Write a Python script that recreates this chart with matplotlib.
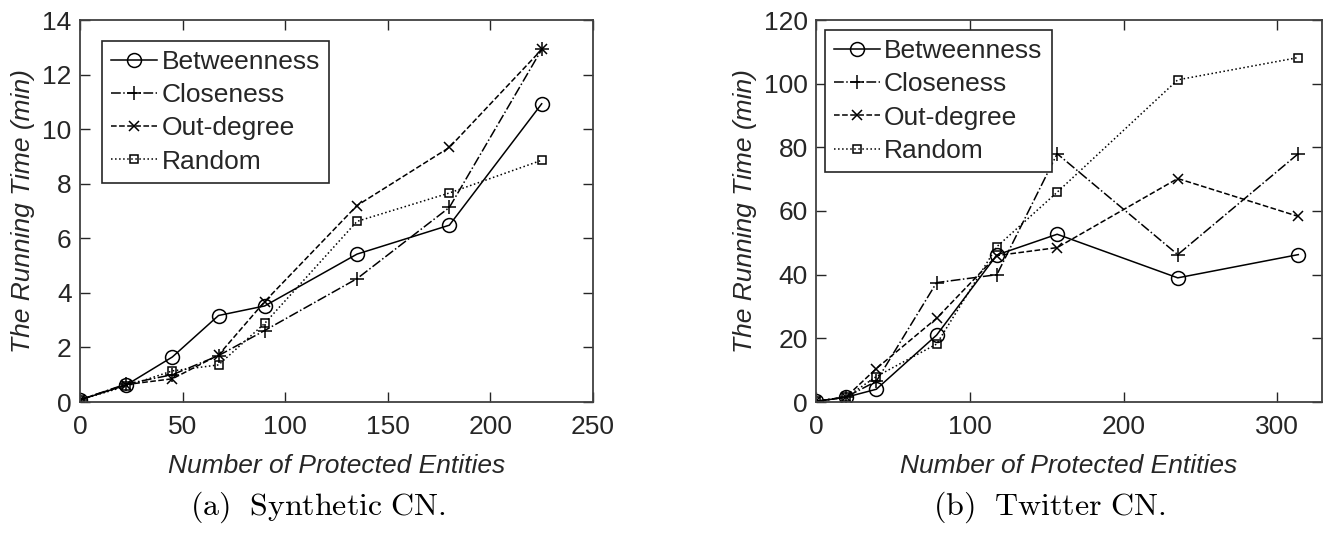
import matplotlib
matplotlib.use("Agg")
import matplotlib.pyplot as plt
from matplotlib.ticker import MultipleLocator

plt.rcParams['font.family'] = ['Liberation Sans', 'DejaVu Sans']
plt.rcParams['mathtext.fontset'] = 'cm'

series_names = ["Betweenness", "Closeness", "Out-degree", "Random"]

# (a) Synthetic CN
x_syn = [0, 22.5, 45, 67.5, 90, 135, 180, 225]
syn_betweenness = [0.08, 0.62, 1.65, 3.17, 3.52, 5.42, 6.48, 10.93]
syn_closeness   = [0.08, 0.66, 1.00, 1.70, 2.62, 4.52, 7.13, 12.92]
syn_outdegree   = [0.08, 0.64, 0.85, 1.72, 3.68, 7.20, 9.33, 12.92]
syn_random      = [0.08, 0.58, 1.14, 1.36, 2.88, 6.62, 7.66, 8.86]

# (b) Twitter CN
x_tw = [0, 19.6, 39.2, 78.4, 117.6, 156.8, 235.2, 313.6]
tw_betweenness = [0.2, 1.5, 4.0, 21.0, 46.2, 52.7, 39.0, 46.3]
tw_closeness   = [0.2, 1.6, 6.5, 37.5, 40.0, 78.0, 46.3, 78.0]
tw_outdegree   = [0.2, 1.6, 10.5, 26.3, 46.0, 48.5, 70.2, 58.3]
tw_random      = [0.2, 1.5, 8.0, 18.2, 48.8, 65.9, 101.2, 108.2]

styles = [dict(ls='-', marker='o', ms=10, mfc='none'),
          dict(ls='-.', marker='+', ms=10),
          dict(ls='--', marker='x', ms=7),
          dict(ls=':', marker='s', ms=6, mfc='none')]

fig = plt.figure(figsize=(13.26, 5.33), dpi=100)
ax1 = fig.add_axes([80/1326, 131/533, 513/1326, 382/533])
ax2 = fig.add_axes([816/1326, 131/533, 506/1326, 382/533])

txt_col = '#262626'
fs = 19

def setup(ax, ys, x, xlim, ylim, xstep, ystep, leg_bbox):
    for name, y, st in zip(series_names, ys, styles):
        ax.plot(x, y, color='black', lw=1.1, mec='black', mew=1.1, label=name, **st)
    ax.set_xlim(*xlim)
    ax.set_ylim(*ylim)
    ax.xaxis.set_major_locator(MultipleLocator(xstep))
    ax.yaxis.set_major_locator(MultipleLocator(ystep))
    ax.tick_params(direction='in', length=7, width=1.0, top=True, right=True,
                   labelsize=fs, colors=txt_col)
    ax.tick_params(axis='x', pad=9)
    ax.tick_params(axis='y', pad=6)
    for sp in ax.spines.values():
        sp.set_color('#404040')
        sp.set_linewidth(1.3)
    ax.set_xlabel('Number of Protected Entities', fontsize=fs, style='italic',
                  color=txt_col, labelpad=11)
    ax.set_ylabel('The Running Time (min)', fontsize=fs, style='italic',
                  color=txt_col, labelpad=5)
    leg = ax.legend(loc='upper left', bbox_to_anchor=leg_bbox, fontsize=19,
                    frameon=True, fancybox=False, edgecolor='#262626',
                    framealpha=1, handlelength=1.75, handletextpad=0.15,
                    borderpad=0.35, labelspacing=0.35, borderaxespad=0)
    leg.get_frame().set_linewidth(1.2)
    for t in leg.get_texts():
        t.set_color(txt_col)

setup(ax1, [syn_betweenness, syn_closeness, syn_outdegree, syn_random], x_syn,
      (0, 250), (0, 14), 50, 2, (0.043, 0.946))
setup(ax2, [tw_betweenness, tw_closeness, tw_outdegree, tw_random], x_tw,
      (0, 329), (0, 120), 100, 20, (0.017, 0.974))

fig.text(318/1326, 1 - 507/533, r'$\mathrm{(a)\ \ Synthetic\ CN.}$', fontsize=23,
         ha='center', va='center', color='black')
fig.text(1049/1326, 1 - 507/533, r'$\mathrm{(b)\ \ Twitter\ CN.}$', fontsize=23,
         ha='center', va='center', color='black')

fig.savefig('out.png', dpi=100)
